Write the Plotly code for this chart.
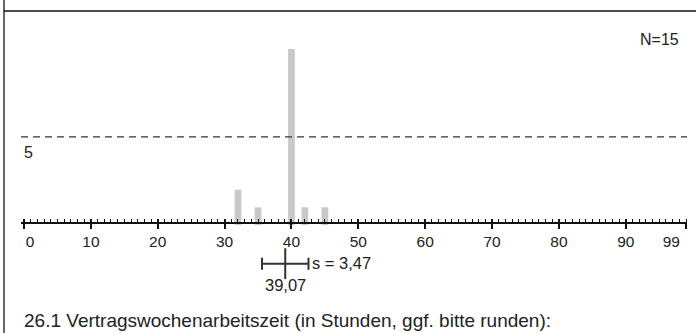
import plotly.graph_objects as go

# ---- data ----
values = [32, 35, 40, 42, 45]
counts = [2, 1, 10, 1, 1]
major_ticks = [0, 10, 20, 30, 40, 50, 60, 70, 80, 90, 99]
tick_labels = ["0", "10", "20", "30", "40", "50", "60", "70", "80", "90", "99"]
ref_level = 5
title_text = "26.1 Vertragswochenarbeitszeit (in Stunden, ggf. bitte runden):"

# ---- statistics from data ----
N = sum(counts)
mean = sum(v * c for v, c in zip(values, counts)) / N
var = sum(c * (v - mean) ** 2 for v, c in zip(values, counts)) / (N - 1)
sd = var ** 0.5
fmt = lambda x: f"{x:.2f}".replace(".", ",")

W, H = 696, 333
FONT = "Liberation Sans, Arial, sans-serif"
TXT = "#222222"

x_dom = [21 / W, 687 / W]
x_rng = [-0.45, 99.15]
y_rng = [-6.14, 12.78]
axis_pos = 1 - 223 / H

# label positions nudged inward at the ends
label_pos = list(major_ticks)
label_pos[0] = major_ticks[0] + 0.9
label_pos[-1] = major_ticks[-1] - 2.2

fig = go.Figure()
fig.add_trace(go.Bar(x=values, y=counts, width=1.0, marker=dict(color="#c8c8c8", line=dict(width=0)),
                     xaxis="x", yaxis="y", showlegend=False, hoverinfo="skip"))

# mean +- sd marker
fig.add_trace(go.Scatter(
    x=[mean], y=[-2.2], mode="markers", xaxis="x", yaxis="y",
    marker=dict(symbol="line-ns-open", size=22, color="#333333", line=dict(width=2, color="#333333")),
    error_x=dict(type="constant", value=sd, thickness=2, width=6, color="#333333"),
    showlegend=False, hoverinfo="skip"))

fig.update_layout(
    width=W, height=H,
    margin=dict(l=0, r=0, t=0, b=0),
    paper_bgcolor="white", plot_bgcolor="white",
    font=dict(family=FONT, color=TXT, size=13),
    xaxis=dict(domain=x_dom, range=x_rng, anchor="free", position=axis_pos,
               showline=True, linecolor="#111111", linewidth=1.5,
               ticks="outside", ticklen=5, tickwidth=1.5, tickcolor="#111111",
               tickvals=major_ticks, showticklabels=False, showgrid=False, zeroline=False,
               minor=dict(ticks="inside", dtick=1, tick0=0, ticklen=3, tickwidth=1, tickcolor="#111111", showgrid=False)),
    xaxis2=dict(domain=x_dom, range=x_rng, anchor="free", position=axis_pos, overlaying="x",
                showline=False, ticks="inside", ticklen=4, tickwidth=1.5, tickcolor="#111111",
                tickvals=major_ticks, showticklabels=False, showgrid=False, zeroline=False),
    xaxis3=dict(domain=x_dom, range=x_rng, anchor="free", position=axis_pos, overlaying="x",
                showline=False, ticks="outside", ticklen=4, tickcolor="rgba(0,0,0,0)",
                tickvals=label_pos, ticktext=tick_labels, showticklabels=True,
                tickfont=dict(size=15.5, color=TXT, family=FONT), showgrid=False, zeroline=False),
    yaxis=dict(domain=[0, 1], range=y_rng, visible=False, fixedrange=True),
)
# dummy traces to activate overlay axes
fig.add_trace(go.Scatter(x=[None], y=[None], xaxis="x2", yaxis="y", showlegend=False))
fig.add_trace(go.Scatter(x=[None], y=[None], xaxis="x3", yaxis="y", showlegend=False))

# reference dashed line at 5
fig.add_shape(type="line", xref="x", yref="y", x0=x_rng[0], x1=x_rng[1], y0=ref_level, y1=ref_level,
              line=dict(color="#333333", width=1.2, dash="7px,5px"))
fig.add_annotation(x=22 / W, xref="paper", y=ref_level, yref="y", yshift=-16, text=str(ref_level),
                   showarrow=False, xanchor="left", yanchor="middle", font=dict(size=16, color=TXT))

# frame lines
fig.add_shape(type="line", xref="paper", yref="paper", x0=4 / W, x1=4 / W, y0=0, y1=1,
              line=dict(color="#666666", width=2))
fig.add_shape(type="line", xref="paper", yref="paper", x0=4 / W, x1=1, y0=1 - 11 / H, y1=1 - 11 / H,
              line=dict(color="#111111", width=1.5))

# N label
fig.add_annotation(x=681 / W, xref="paper", y=1 - 40 / H, yref="paper", text=f"N={N}",
                   showarrow=False, xanchor="right", yanchor="middle", font=dict(size=16, color=TXT))

# sd / mean labels
fig.add_annotation(x=mean + sd, xref="x", y=-2.2, yref="y", xshift=2, yshift=1, text=f"s = {fmt(sd)}",
                   showarrow=False, xanchor="left", yanchor="middle", font=dict(size=16.5, color=TXT))
fig.add_annotation(x=mean, xref="x", y=-2.2, yref="y", yshift=-21, text=fmt(mean),
                   showarrow=False, xanchor="center", yanchor="middle", font=dict(size=16.5, color=TXT))

# title
fig.add_annotation(x=22 / W, xref="paper", y=1 - 320 / H, yref="paper", text=title_text,
                   showarrow=False, xanchor="left", yanchor="middle", font=dict(size=19, color=TXT))

fig.write_html("out.html", config={"displayModeBar": False},
               post_script="document.body.style.margin='0';document.body.style.overflow='hidden';")
